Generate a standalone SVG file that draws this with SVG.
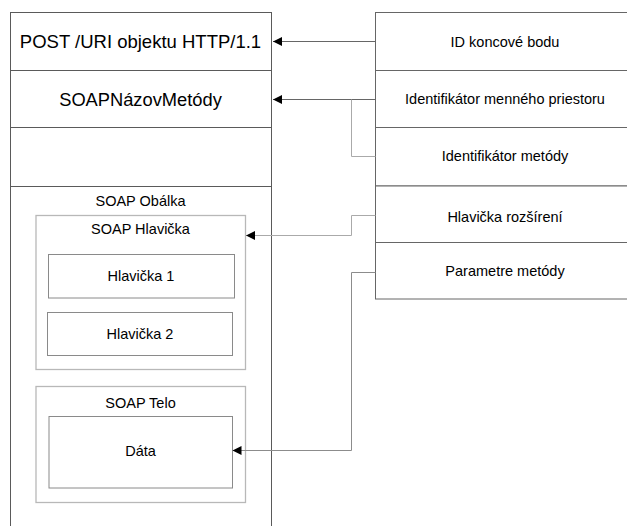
<svg xmlns="http://www.w3.org/2000/svg" width="627" height="526" viewBox="0 0 627 526">
<style>
text{font-family:"Liberation Sans",Arial,sans-serif;fill:#000;text-anchor:middle}
.sm{font-size:14.5px}
.col{fill:#fff;stroke:#5a5a5a;stroke-width:1}
.rc{fill:#fff;stroke:#666;stroke-width:1}
.env{fill:#fff;stroke:#b8b8b8;stroke-width:1.3}
.in{fill:#fff;stroke:#8a8a8a;stroke-width:1}
.cd{fill:none;stroke:#666;stroke-width:1}
.cl{fill:none;stroke:#aaa;stroke-width:1}
.cm{fill:none;stroke:#8c8c8c;stroke-width:1}
</style>
<defs>
<marker id="ah" markerUnits="userSpaceOnUse" markerWidth="10" markerHeight="10" refX="9" refY="4.5" orient="auto">
<path d="M0,0 L9,4.5 L0,9 Z" fill="#000"/>
</marker>
</defs>
<rect width="627" height="526" fill="#fff"/>
<g id="left-column">
<rect class="col" x="10.5" y="12.5" width="261" height="530"/>
<g id="http-line"><line x1="10.5" y1="70.5" x2="271.5" y2="70.5" stroke="#5a5a5a"/><text x="140.5" y="47.5" style="font-size:18.5px">POST /URI objektu HTTP/1.1</text></g>
<g id="method-name"><line x1="10.5" y1="127.5" x2="271.5" y2="127.5" stroke="#5a5a5a"/><text x="140.5" y="106" style="font-size:18.3px">SOAPNázovMetódy</text></g>
<g id="empty-row"><line x1="10.5" y1="186.5" x2="271.5" y2="186.5" stroke="#5a5a5a"/></g>
<g id="soap-envelope"><text class="sm" x="140.5" y="206">SOAP Obálka</text></g>
</g>
<g id="soap-header">
<rect class="env" x="36" y="215.5" width="209.5" height="154"/>
<text class="sm" x="140.5" y="233.5">SOAP Hlavička</text>
</g>
<g id="header-1"><rect class="in" x="48.5" y="254.5" width="186" height="43.5"/><text class="sm" x="141" y="281">Hlavička 1</text></g>
<g id="header-2"><rect class="in" x="47.5" y="312.5" width="185" height="43"/><text class="sm" x="140" y="338.5">Hlavička 2</text></g>
<g id="soap-body">
<rect class="env" x="36" y="386.5" width="209.5" height="116"/>
<text class="sm" x="140.5" y="408">SOAP Telo</text>
</g>
<g id="data"><rect class="in" x="49" y="416.5" width="183.5" height="71.5"/><text class="sm" x="140.5" y="456">Dáta</text></g>
<g id="endpoint-id"><rect class="rc" x="375.5" y="12.5" width="270" height="58"/><text class="sm" x="505" y="47">ID koncové bodu</text></g>
<g id="namespace-id"><rect class="rc" x="375.5" y="70.5" width="270" height="57"/><text class="sm" x="505" y="104">Identifikátor menného priestoru</text></g>
<g id="method-id"><rect class="rc" x="375.5" y="127.5" width="270" height="58.5"/><text class="sm" x="505" y="161">Identifikátor metódy</text></g>
<g id="header-ext"><rect class="rc" x="375.5" y="186" width="270" height="56.5"/><text class="sm" x="505" y="221.5">Hlavička rozšírení</text></g>
<g id="method-params"><rect class="rc" x="375.5" y="242.5" width="270" height="56.5"/><text class="sm" x="505" y="276">Parametre metódy</text></g>
<g id="connectors">
<path class="cd" d="M375.5,41.5 H273" marker-end="url(#ah)"/>
<path class="cd" d="M375.5,99.5 H273" marker-end="url(#ah)"/>
<path class="cl" d="M375.5,156.5 H351.5 V99.5"/>
<path class="cl" d="M375.5,215.5 H351.5 V235.5 H246" marker-end="url(#ah)"/>
<path class="cm" d="M375.5,272.5 H351.5 V450.5 H232.5" marker-end="url(#ah)"/>
</g>
</svg>
